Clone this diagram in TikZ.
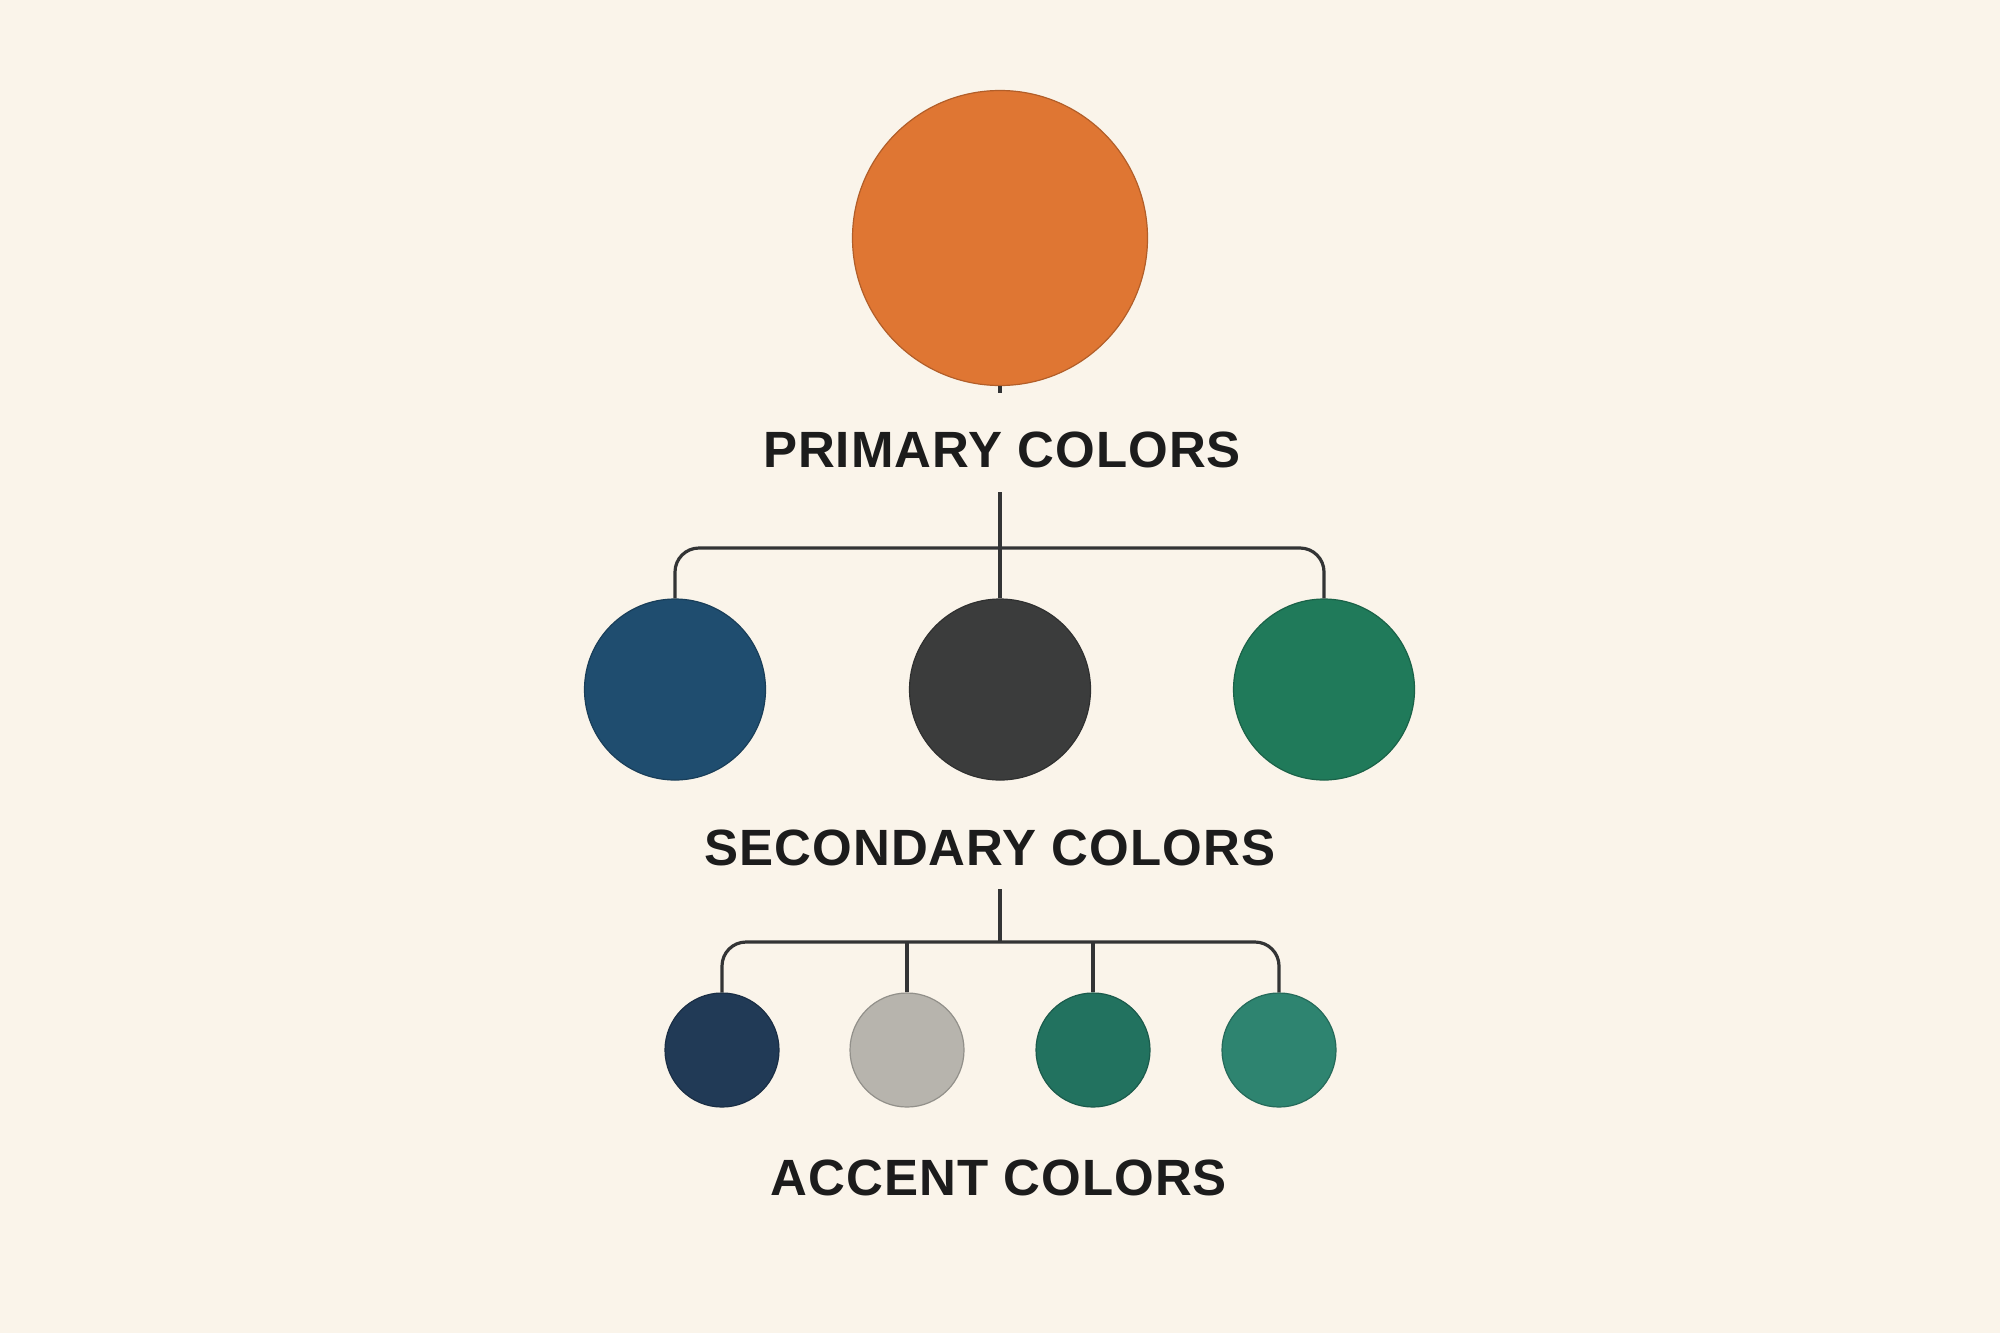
\documentclass[tikz,border=0pt]{standalone}
\usepackage{fontspec}
\setmainfont{Liberation Sans}
\newfontfamily\labelfont[LetterSpace=2.0]{Liberation Sans}
\definecolor{bgcol}{HTML}{FAF4EA}
\definecolor{linecol}{HTML}{333435}
\definecolor{textcol}{HTML}{1C1C1C}
\definecolor{corange}{HTML}{DF7633}
\definecolor{cblue}{HTML}{1F4D6F}
\definecolor{cgray}{HTML}{3B3C3C}
\definecolor{cgreen}{HTML}{207A5A}
\definecolor{cnavy}{HTML}{213A56}
\definecolor{clgray}{HTML}{B7B4AD}
\definecolor{cteal}{HTML}{22725F}
\definecolor{cteallight}{HTML}{2E8470}
\tikzset{
  dot/.style={circle, inner sep=0pt, line width=0.6pt, fill=#1, draw=#1!80!black},
  bigdot/.style={dot=#1, minimum size=147.5pt},
  middot/.style={dot=#1, minimum size=90.5pt},
  smalldot/.style={dot=#1, minimum size=57pt},
  heading/.style={inner sep=0pt, anchor=base, text=textcol, font=\labelfont\bfseries\fontsize{25.5pt}{30pt}\selectfont},
  conn/.style={draw=linecol, line width=1.6pt},
}
\begin{document}
\begin{tikzpicture}[x=0.5pt,y=-0.5pt]
\fill[bgcol] (0,0) rectangle (2000,1333);
\useasboundingbox (0,0) rectangle (2000,1333);

% primary
\node[bigdot=corange] (p) at (1000,238) {};
\coordinate (ptick) at (1000,393);
\node[heading] (pl) at (1002,467) {PRIMARY COLORS};

% secondary
\node[middot=cblue]  (s1) at (675,689.5) {};
\node[middot=cgray]  (s2) at (1000,689.5) {};
\node[middot=cgreen] (s3) at (1324,689.5) {};
\node[heading] (sl) at (990,865) {SECONDARY COLORS};

% accent
\node[smalldot=cnavy]      (a1) at (722,1050) {};
\node[smalldot=clgray]     (a2) at (907,1050) {};
\node[smalldot=cteal]      (a3) at (1093,1050) {};
\node[smalldot=cteallight] (a4) at (1279,1050) {};
\node[heading] (al) at (999,1195) {ACCENT COLORS};

% connectors
\coordinate (pstart) at (1000,492);
\coordinate (pbus) at (1000,548);
\coordinate (sstart) at (1000,889);
\coordinate (sbus) at (1000,942);

\draw[conn] (p.south) -- (ptick);
\draw[conn, rounded corners=12pt] (s1.north) |- (pbus) -| (s3.north);
\draw[conn] (pstart) -- (s2.north);

\draw[conn, rounded corners=12pt] (a1.north) |- (sbus) -| (a4.north);
\draw[conn] (sstart) -- (sbus);
\draw[conn] (a2.north) -- (a2.north |- sbus);
\draw[conn] (a3.north) -- (a3.north |- sbus);
\end{tikzpicture}
\end{document}
